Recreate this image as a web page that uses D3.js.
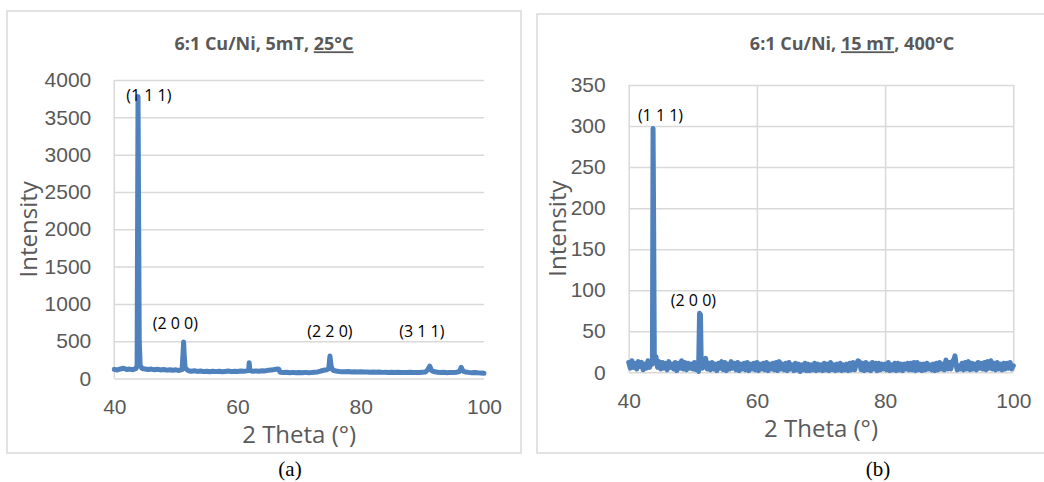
<!DOCTYPE html>
<html>
<head>
<meta charset="utf-8">
<script src="https://cdn.jsdelivr.net/npm/d3@7"></script>
<style>
  body { margin: 0; background: #fff; }
  svg { display: block; font-family: "Open Sans", "Noto Sans", sans-serif; }
  .grid line { stroke: #d9d9d9; stroke-width: 1.5; }
  .grid .domain { display: none; }
  .tick text { fill: #595959; font-size: 21px; }
</style>
</head>
<body>
<svg width="1044" height="482"></svg>
<script>
// (a) 6:1 Cu/Ni, 5mT, 25°C  -- [2 theta, intensity]
const scanA = [
  [40,122],[40.5,115],[41,128],[41.5,138],[42,120],[42.5,126],[43,118],[43.5,132],
  [43.7,170],[43.85,3780],[43.95,2120],[44.05,500],[44.2,170],[44.5,135],[45,128],
  [45.5,120],[46,126],[46.5,118],[47,124],[47.5,115],[48,121],[48.5,112],[49,118],
  [49.5,110],[50,116],[50.5,108],[51,120],[51.15,330],[51.25,490],[51.35,310],
  [51.5,140],[52,105],[52.5,98],[53,104],[53.5,95],[54,100],[54.5,92],[55,98],
  [55.5,90],[56,96],[56.5,92],[57,98],[57.5,90],[58,95],[58.5,100],[59,92],[59.5,98],
  [60,95],[60.5,100],[61,96],[61.5,102],[61.8,110],[61.9,210],[62,105],[62.3,100],
  [62.5,96],[63,102],[63.5,98],[64,105],[64.5,102],[65,110],[65.5,115],[66,120],
  [66.5,128],[66.7,125],[66.9,85],[67.5,80],[68,84],[68.5,78],[69,82],[69.5,76],
  [70,80],[70.5,77],[71,82],[71.5,78],[72,80],[72.5,84],[73,88],[73.5,100],[74,110],
  [74.5,118],[74.8,130],[75,300],[75.2,160],[75.5,110],[76,100],[76.5,95],[77,92],
  [77.5,90],[78,94],[78.5,88],[79,91],[79.5,86],[80,90],[80.5,86],[81,88],[81.5,84],
  [82,88],[82.5,83],[83,86],[83.5,82],[84,85],[84.5,80],[85,84],[85.5,80],[86,83],
  [86.5,79],[87,82],[87.5,80],[88,83],[88.5,79],[89,82],[89.5,80],[90,85],[90.5,88],
  [90.9,120],[91.2,165],[91.5,105],[92,90],[92.5,84],[93,80],[93.5,83],[94,78],
  [94.5,82],[95,80],[95.5,84],[96,92],[96.3,150],[96.6,100],[97,88],[97.5,82],[98,78],
  [98.5,80],[99,76],[99.5,74],[100,70]
];

// (b) 6:1 Cu/Ni, 15 mT, 400°C
const scanB = [
  [40,12],[40.25,5],[40.5,14],[40.75,6],[41,11],[41.25,4],[41.5,13],[41.75,7],
  [42,12],[42.25,3],[42.5,10],[42.75,5],[43,14],[43.25,6],[43.5,12],[43.7,10],
  [43.8,297],[43.9,170],[44,12],[44.25,19],[44.5,6],[44.75,13],
  [45,4],[45.25,12],[45.5,5],[45.75,11],[46,3],[46.25,13],[46.5,6],[46.75,10],
  [47,4],[47.25,12],[47.5,2],[47.75,11],[48,5],[48.25,14],[48.5,4],[48.75,12],
  [49,3],[49.25,11],[49.5,5],[49.75,10],[50,4],[50.25,12],[50.5,3],[50.75,9],
  [50.9,1],[51.05,72],[51.2,70],[51.3,18],[51.5,5],[51.75,12],
  [52,17],[52.25,4],[52.5,11],[52.75,3],[53,12],[53.25,4],[53.5,10],[53.75,2],
  [54,11],[54.25,5],[54.5,13],[54.75,3],[55,12],[55.25,2],[55.5,10],[55.75,4],
  [56,13],[56.25,5],[56.5,11],[56.75,3],[57,12],[57.25,2],[57.5,10],[57.75,4],
  [58,11],[58.25,3],[58.5,12],[58.75,2],[59,10],[59.25,4],[59.5,11],[59.75,3],
  [60,12],[60.25,2],[60.5,10],[60.75,4],[61,11],[61.25,3],[61.5,12],[61.75,2],
  [62,10],[62.25,4],[62.5,11],[62.75,3],[63,12],[63.25,2],[63.5,13],[63.75,4],
  [64,10],[64.25,3],[64.5,11],[64.75,2],[65,12],[65.25,4],[65.5,9],[65.75,2],
  [66,11],[66.25,3],[66.5,10],[66.75,1],[67,9],[67.25,3],[67.5,11],[67.75,2],
  [68,10],[68.25,2],[68.5,9],[68.75,3],[69,11],[69.25,2],[69.5,10],[69.75,3],
  [70,9],[70.25,2],[70.5,11],[70.75,3],[71,10],[71.25,2],[71.5,12],[71.75,3],
  [72,9],[72.25,2],[72.5,10],[72.75,3],[73,11],[73.25,2],[73.5,9],[73.75,3],
  [74,10],[74.25,2],[74.5,11],[74.75,3],[75,12],[75.25,3],[75.5,10],[75.75,14],
  [76,13],[76.25,3],[76.5,11],[76.75,2],[77,12],[77.25,3],[77.5,10],[77.75,2],
  [78,12],[78.25,4],[78.5,11],[78.75,2],[79,11],[79.25,3],[79.5,10],[79.75,4],
  [80,10],[80.25,3],[80.5,12],[80.75,2],[81,9],[81.25,3],[81.5,11],[81.75,2],
  [82,11],[82.25,3],[82.5,10],[82.75,2],[83,10],[83.25,4],[83.5,11],[83.75,3],
  [84,11],[84.25,3],[84.5,12],[84.75,2],[85,12],[85.25,3],[85.5,10],[85.75,2],
  [86,10],[86.25,3],[86.5,11],[86.75,4],[87,9],[87.25,3],[87.5,10],[87.75,2],
  [88,11],[88.25,3],[88.5,12],[88.75,4],[89,10],[89.25,3],[89.5,15],[89.75,4],
  [90,12],[90.25,4],[90.5,13],[90.75,16],[90.9,20],[91.1,8],[91.25,3],[91.5,8],
  [91.75,4],[92,11],[92.25,3],[92.5,12],[92.75,4],[93,13],[93.25,3],[93.5,11],
  [93.75,4],[94,10],[94.25,3],[94.5,12],[94.75,5],[95,11],[95.25,4],[95.5,12],
  [95.75,3],[96,13],[96.25,5],[96.5,14],[96.75,4],[97,11],[97.25,3],[97.5,12],
  [97.75,4],[98,10],[98.25,3],[98.5,11],[98.75,4],[99,11],[99.25,5],[99.5,12],
  [99.75,4],[100,8]
];

const xTicks = [40, 60, 80, 100];
const yTicksA = [0, 500, 1000, 1500, 2000, 2500, 3000, 3500, 4000];
const yTicksB = [0, 50, 100, 150, 200, 250, 300, 350];

const peakTextA = ['(1 1 1)', '(2 0 0)', '(2 2 0)', '(3 1 1)'];
const peakThetaA = [45.6, 49.9, 75.0, 89.9];
const peakLevelA = [3800, 733, 625, 625];

const peakTextB = ['(1 1 1)', '(2 0 0)'];
const peakThetaB = [44.96, 50.1];
const peakLevelB = [313, 88];

const svg = d3.select('svg');
const blue = '#4f81bd';

const drawPanel = opt => {
  const g = svg.append('g');

  g.append('rect')
    .attr('x', opt.box[0]).attr('y', opt.box[1])
    .attr('width', opt.box[2]).attr('height', opt.box[3])
    .attr('fill', '#fff').attr('stroke', '#d9d9d9').attr('stroke-width', 1.5);

  const x = d3.scaleLinear().domain([40, 100]).range([opt.left, opt.right]);
  const y = d3.scaleLinear().domain(opt.yDomain).range([opt.bottom, opt.top]);
  const w = opt.right - opt.left;
  const h = opt.bottom - opt.top;

  // horizontal gridlines + y labels
  g.append('g').attr('class', 'grid')
    .attr('transform', `translate(${opt.left},0)`)
    .call(d3.axisLeft(y).tickValues(opt.yTicks).tickSize(-w).tickPadding(23).tickFormat(d3.format('d')));

  // vertical gridlines (or just the left axis line)
  g.append('g').attr('class', 'grid')
    .attr('transform', `translate(0,${opt.bottom})`)
    .call(d3.axisBottom(x).tickValues(xTicks).tickSize(opt.vGrid ? -h : 0).tickPadding(21));

  if (!opt.vGrid) {
    g.append('line')
      .attr('x1', opt.left).attr('x2', opt.left)
      .attr('y1', opt.top).attr('y2', opt.bottom)
      .attr('stroke', '#d9d9d9').attr('stroke-width', 1.5);
  }

  const line = d3.line().x(d => x(d[0])).y(d => y(d[1]));
  g.append('path')
    .datum(opt.data)
    .attr('d', line)
    .attr('fill', 'none')
    .attr('stroke', blue)
    .attr('stroke-width', opt.lineW)
    .attr('stroke-linejoin', 'round')
    .attr('stroke-linecap', 'round');

  // peak labels
  opt.peakText.forEach((t, i) => {
    g.append('text')
      .attr('x', x(opt.peakTheta[i]))
      .attr('y', y(opt.peakLevel[i]))
      .attr('dy', '0.35em')
      .attr('text-anchor', 'middle')
      .attr('font-size', 16)
      .attr('fill', '#000')
      .text(t);
  });

  // title
  const title = g.append('text')
    .attr('x', opt.titleX).attr('y', 44).attr('dy', '0.35em')
    .attr('text-anchor', 'middle')
    .attr('font-size', 18).attr('font-weight', 'bold')
    .attr('fill', '#595959');
  opt.title.forEach(p => {
    title.append('tspan')
      .attr('text-decoration', p[1] ? 'underline' : null)
      .text(p[0]);
  });

  // axis titles
  g.append('text')
    .attr('x', (opt.left + opt.right) / 2).attr('y', opt.bottom + 56)
    .attr('dy', '0.35em').attr('text-anchor', 'middle')
    .attr('font-size', 24).attr('fill', '#595959')
    .text('2 Theta (°)');

  g.append('text')
    .attr('transform', `translate(${opt.yTitleX},${(opt.top + opt.bottom) / 2}) rotate(-90)`)
    .attr('dy', '0.35em').attr('text-anchor', 'middle')
    .attr('font-size', 24).attr('fill', '#595959')
    .text('Intensity');

  // caption below the panel
  svg.append('text')
    .attr('x', opt.capX).attr('y', 476)
    .attr('text-anchor', 'middle')
    .attr('font-family', '"Liberation Serif", "DejaVu Serif", serif')
    .attr('font-size', 21).attr('fill', '#000')
    .text(opt.caption);
};

drawPanel({
  box: [7, 11, 514, 442],
  left: 114.3, right: 484, top: 80, bottom: 378.5,
  yDomain: [0, 4000], yTicks: yTicksA, vGrid: false,
  data: scanA, lineW: 5,
  peakText: peakTextA, peakTheta: peakThetaA, peakLevel: peakLevelA,
  title: [['6:1 Cu/Ni, 5mT, ', false], ['25°C', true]],
  titleX: 264, yTitleX: 29, capX: 290, caption: '(a)'
});

drawPanel({
  box: [537, 14, 520, 439],
  left: 628.7, right: 1013.3, top: 85, bottom: 372.3,
  yDomain: [0, 350], yTicks: yTicksB, vGrid: true,
  data: scanB, lineW: 5,
  peakText: peakTextB, peakTheta: peakThetaB, peakLevel: peakLevelB,
  title: [['6:1 Cu/Ni, ', false], ['15 mT', true], [', 400°C', false]],
  titleX: 852, yTitleX: 558, capX: 878, caption: '(b)'
});
</script>
</body>
</html>
